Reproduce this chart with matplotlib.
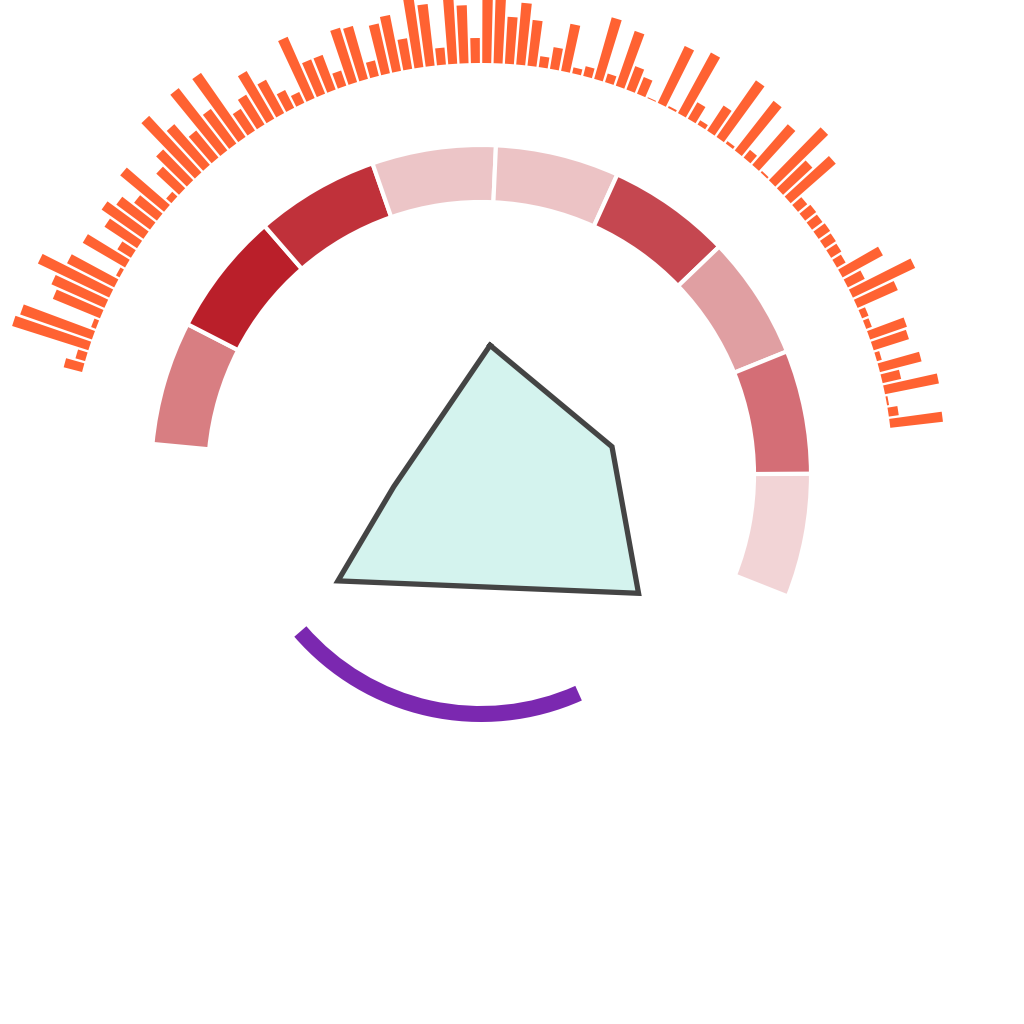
import numpy as np
import matplotlib
matplotlib.use("Agg")
import matplotlib.pyplot as plt

# ---------------- data ----------------
# outer ring: bar heights (101 bars, left -> right)
bar_heights = [19, 10, 80, 76, 5, 51, 58, 79, 53, 4,
               49, 16, 39, 51, 42, 29, 57, 7, 31, 43,
               77, 54, 35, 79, 43, 78, 26, 35, 55, 38,
               20, 12, 67, 37, 37, 16, 57, 55, 16, 51,
               57, 31, 82, 62, 17, 80, 58, 25, 80, 80,
               47, 62, 46, 11, 22, 48, 6, 10, 64, 9,
               58, 25, 18, 1, 63, 2, 69, 19, 5, 30,
               69, 3, 63, 10, 54, 2, 74, 40, 60, 12,
               14, 13, 14, 13, 12, 10, 46, 19, 69, 44,
               7, 6, 39, 37, 5, 43, 19, 55, 2, 10, 53]

# middle ring: 9 segments with shades
ring_colors = ["#D87E82", "#BA1F2A", "#C0313A", "#ECC5C7", "#ECC3C5",
               "#C54750", "#E09FA2", "#D46E76", "#F2D4D6"]

# polygon (angle in degrees clockwise from north, radius)
poly_angles = [4.0, 77.8, 126.9, 233.5, 262.4]
poly_radii = [130, 134, 197, 178, 88]

# purple arc (start / end angle in degrees)
arc_start, arc_end = 155.9, 229.1

# ---------------- layout ----------------
W = 1024
cx, cy = 481, 475          # centre in pixels (from top-left)
R = 500                    # radial limit in pixels

fig = plt.figure(figsize=(10.24, 10.24), dpi=100)
fig.patch.set_facecolor("white")
ax = fig.add_axes([(cx - R) / W, (W - cy - R) / W, 2 * R / W, 2 * R / W],
                  projection="polar")
ax.set_theta_zero_location("N")
ax.set_theta_direction(-1)
ax.set_rlim(0, R)
ax.axis("off")

# outer orange bars
n = len(bar_heights)
bar_start, bar_end = -74.9, 82.8
bar_theta = np.deg2rad(np.linspace(bar_start, bar_end, n))
bar_width = np.deg2rad(1.25)
ax.bar(bar_theta, bar_heights, width=bar_width, bottom=412,
       color="#FF6232", edgecolor="none", linewidth=0)

# middle ring segments
seg_w = 21.8
seg_start = -84.6
seg_centers = np.deg2rad(seg_start + seg_w / 2 + seg_w * np.arange(len(ring_colors)))
ax.bar(seg_centers, [57] * len(ring_colors), width=np.deg2rad(seg_w), bottom=273,
       color=ring_colors, edgecolor="white", linewidth=3.0)

# polygon
pa = np.deg2rad(poly_angles + poly_angles[:1])
pr = poly_radii + poly_radii[:1]
ax.fill(pa, pr, color="#D4F3EE", zorder=3)
ax.plot(pa, pr, color="#444444", linewidth=3.8, solid_joinstyle="miter", zorder=4)

# purple arc
arc_c = np.deg2rad((arc_start + arc_end) / 2)
ax.bar([arc_c], [16], width=np.deg2rad(arc_end - arc_start), bottom=231,
       color="#7B28B0", edgecolor="none", linewidth=0)

fig.savefig("out.png", dpi=100, facecolor="white")
